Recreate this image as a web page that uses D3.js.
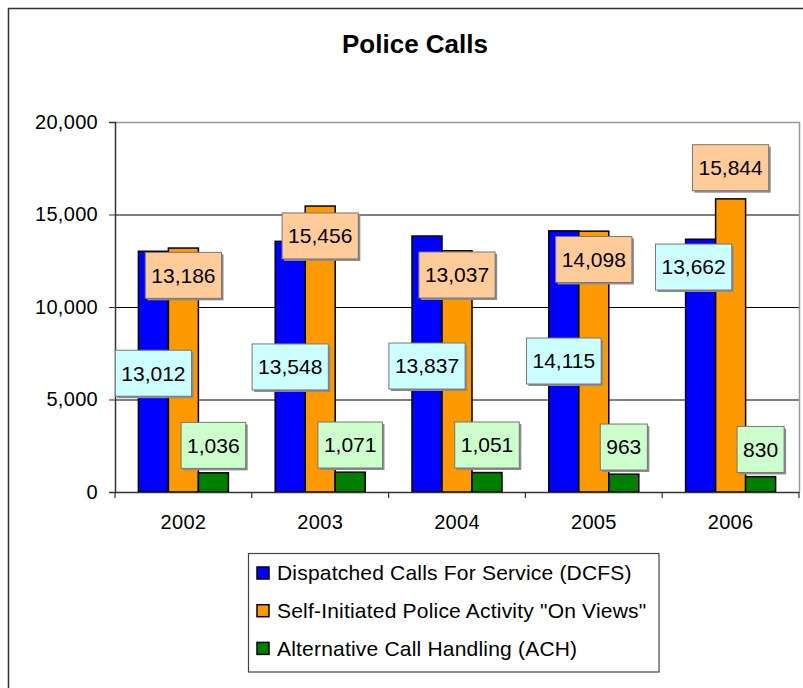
<!DOCTYPE html>
<html><head><meta charset="utf-8">
<script src="https://cdn.jsdelivr.net/npm/d3@7"></script>
<style>
html,body{margin:0;padding:0;background:#fff;}
svg text{font-family:Arial,"Liberation Sans",sans-serif;fill:#000;}
</style></head>
<body><svg id="c" width="803" height="688"></svg>
<script>
const years = ["2002","2003","2004","2005","2006"];
const seriesNames = ["Dispatched Calls For Service (DCFS)", "Self-Initiated Police Activity \"On Views\"", "Alternative Call Handling (ACH)"];
const dcfs = [13012, 13548, 13837, 14115, 13662];
const onViews = [13186, 15456, 13037, 14098, 15844];
const ach = [1036, 1071, 1051, 963, 830];
const yTicks = [0, 5000, 10000, 15000, 20000];
// manually placed data-label centres (value units), as in the original
const dcfsLabelAt = [6420, 6760, 6810, 7080, 12160];
const onViewsLabelAt = [11710, 13840, 11730, 12570, 17530];
const achLabelAt = [2520, 2540, 2540, 2430, 2300];

const colors = ["#0000FF", "#FF9900", "#008000"];
const labelFills = ["#CCFFFF", "#FFCC99", "#CCFFCC"];

const svg = d3.select("#c");
const fmt = d3.format(",");

// outer chart border
svg.append("rect").attr("x",8.5).attr("y",8.5).attr("width",820).attr("height",720)
  .attr("fill","none").attr("stroke","#333").attr("stroke-width",1.5);

svg.append("text").attr("x",415).attr("y",53).attr("text-anchor","middle")
  .attr("font-size",26).attr("font-weight","bold").text("Police Calls");

const L = 115, R = 799, T = 122, B = 492;
const x = d3.scaleBand().domain(years).range([L, R]).paddingInner(0).paddingOuter(0);
const groupW = 90;
const xs = d3.scaleBand().domain([0,1,2]).range([0, groupW]);
const y = d3.scaleLinear().domain([0, 20000]).range([B, T]);

// gridlines
svg.append("g").selectAll("line").data(yTicks.filter(d => d > 0 && d < 20000)).join("line")
  .attr("x1", L).attr("x2", R).attr("y1", d => y(d)+0.5).attr("y2", d => y(d)+0.5)
  .attr("stroke", "#000").attr("stroke-width", 1);
// plot border top/right
svg.append("path").attr("d", `M${L},${T+0.5}H${R+0.5}V${B}`).attr("fill","none")
  .attr("stroke","#999").attr("stroke-width",1.5);

// y axis
const yAxis = svg.append("g").attr("transform", `translate(${L},0)`)
  .call(d3.axisLeft(y).tickValues(yTicks).tickFormat(fmt).tickSize(6).tickPadding(11));
yAxis.select(".domain").attr("stroke","#333").attr("stroke-width",1.5);
yAxis.selectAll(".tick line").attr("stroke","#333");
yAxis.selectAll("text").attr("font-size",20).attr("letter-spacing","0.3px").attr("font-family","Arial, 'Liberation Sans', sans-serif");

// bars
const series = [dcfs, onViews, ach];
const labelAt = [dcfsLabelAt, onViewsLabelAt, achLabelAt];
const labelDx = [[0,0,0,0,-7],[0,0,0,0,0],[0,0,0,0,0]];
const barG = svg.append("g");
series.forEach((vals, s) => {
  barG.selectAll(null).data(vals).join("rect")
    .attr("x", (d,i) => x(years[i]) + (x.bandwidth()-groupW)/2 + xs(s))
    .attr("y", d => y(d))
    .attr("width", xs.bandwidth())
    .attr("height", d => B - y(d))
    .attr("fill", colors[s]).attr("stroke","#000").attr("stroke-width",1.5);
});

// x axis
const xAxis = svg.append("g").attr("transform", `translate(0,${B})`)
  .call(d3.axisBottom(x).tickSize(0).tickPadding(23));
xAxis.select(".domain").attr("stroke","#333").attr("stroke-width",1.5);
xAxis.selectAll("text").attr("font-size",20).attr("letter-spacing","0.3px").attr("font-family","Arial, 'Liberation Sans', sans-serif");
svg.append("g").selectAll("line").data(years.concat(["end"])).join("line")
  .attr("x1", (d,i) => L + i*x.bandwidth()).attr("x2", (d,i) => L + i*x.bandwidth())
  .attr("y1", B).attr("y2", B+6).attr("stroke","#333").attr("stroke-width",1.2);

// data labels
const lblG = svg.append("g");
series.forEach((vals, s) => {
  vals.forEach((v, i) => {
    const cx = x(years[i]) + (x.bandwidth()-groupW)/2 + xs(s) + xs.bandwidth()/2 + labelDx[s][i];
    const cy = y(labelAt[s][i]);
    const t = lblG.append("text").attr("font-size",21).attr("text-anchor","middle")
      .attr("x", cx).attr("y", cy).attr("dy","0.35em").text(fmt(v));
    const w = t.node().getComputedTextLength() + 12, h = 46;
    lblG.insert("rect", () => t.node()).attr("x", cx - w/2 + 2).attr("y", cy - h/2 + 2)
      .attr("width", w).attr("height", h).attr("fill", "#8c8c8c");
    lblG.insert("rect", () => t.node()).attr("x", cx - w/2).attr("y", cy - h/2)
      .attr("width", w).attr("height", h).attr("fill", labelFills[s]).attr("stroke","#777").attr("stroke-width",1);
  });
});

// legend
const lg = svg.append("g");
lg.append("rect").attr("x",248.5).attr("y",553.5).attr("width",410.5).attr("height",118.5)
  .attr("fill","#fff").attr("stroke","#444").attr("stroke-width",1.2);
seriesNames.forEach((n, s) => {
  const cy = 573 + s*37.7;
  lg.append("rect").attr("x",257).attr("y",cy-6).attr("width",12).attr("height",12)
    .attr("fill",colors[s]).attr("stroke","#000").attr("stroke-width",1.5);
  lg.append("text").attr("x",277).attr("y",cy).attr("dy","0.35em").attr("font-size",21)
    .attr("letter-spacing","0.2px").text(n);
});
</script></body></html>
